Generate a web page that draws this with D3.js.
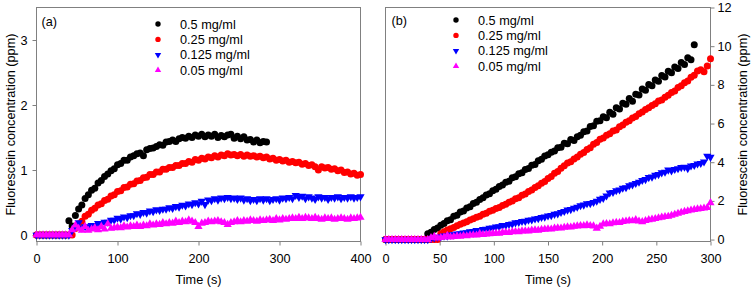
<!DOCTYPE html>
<html>
<head>
<meta charset="utf-8">
<script src="https://cdn.jsdelivr.net/npm/d3@7"></script>
<style>
body { margin: 0; background: #fff; }
svg text { font-family: "Liberation Sans", Arial, sans-serif; fill: #000; }
</style>
</head>
<body>
<div id="chart"></div>
<script>
// ---- Data ----

var seriesNames = ["0.5 mg/ml", "0.25 mg/ml", "0.125 mg/ml", "0.05 mg/ml"];

// panel (a): sampled every 4 s
var timesA = [0,4,8,12,16,20,24,28,32,36,40,44,48,52,56,60,64,68,72,76,80,84,88,92,96,100,
  104,108,112,116,120,124,128,132,136,140,144,148,152,156,160,164,168,172,176,180,184,188,192,196,200,
  204,208,212,216,220,224,228,232,236,240,244,248,252,256,260,264,268,272,276,280,284,288,292,296,300,
  304,308,312,316,320,324,328,332,336,340,344,348,352,356,360,364,368,372,376,380,384,388,392,396,400];

var blackA = [0,0,0,0,0,0,0,0,0,0,
  0.22,0.14,0.30,0.40,0.46,0.56,0.62,0.69,0.72,0.80,
  0.84,0.90,0.94,0.99,1.02,1.08,1.10,1.15,1.15,1.20,
  1.22,1.25,1.26,1.22,1.31,1.33,1.34,1.36,1.39,1.38,
  1.43,1.44,1.46,1.44,1.48,1.50,1.49,1.52,1.50,1.54,
  1.52,1.55,1.51,1.54,1.52,1.55,1.50,1.53,1.51,1.54,
  1.55,1.49,1.52,1.48,1.51,1.46,1.47,1.43,1.46,1.42,
  1.44,1.43];

var redA = [0,0,0,0,0,0,0,0,0,0,0,0,
  0.10,0.17,0.21,0.29,0.32,0.38,0.41,0.46,0.48,0.53,
  0.55,0.60,0.62,0.67,0.68,0.73,0.74,0.78,0.79,0.83,
  0.84,0.88,0.89,0.93,0.93,0.97,0.97,1.01,1.01,1.04,
  1.04,1.07,1.07,1.10,1.10,1.13,1.12,1.16,1.15,1.18,
  1.17,1.20,1.19,1.22,1.20,1.23,1.22,1.25,1.23,1.24,
  1.22,1.24,1.21,1.23,1.21,1.22,1.20,1.21,1.19,1.20,
  1.17,1.18,1.15,1.16,1.14,1.15,1.12,1.13,1.11,1.12,
  1.09,1.10,1.07,1.08,1.05,1.00,1.05,1.03,1.04,1.01,
  1.02,0.99,1.00,0.96,0.97,0.94,0.95,0.92,0.93];

var blueA = [0,0,0,0,0,0,0,0,0,0,0,
  0.07,0.12,0.19,0.11,0.13,0.12,0.15,0.15,0.18,0.17,
  0.20,0.20,0.23,0.23,0.26,0.25,0.28,0.27,0.30,0.30,
  0.33,0.32,0.35,0.34,0.37,0.36,0.39,0.38,0.40,0.40,
  0.42,0.41,0.44,0.43,0.46,0.45,0.48,0.47,0.50,0.48,
  0.52,0.47,0.54,0.53,0.56,0.54,0.57,0.56,0.58,0.56,
  0.57,0.55,0.57,0.54,0.56,0.53,0.55,0.53,0.56,0.54,
  0.56,0.53,0.55,0.56,0.54,0.57,0.56,0.58,0.56,0.61,
  0.58,0.60,0.56,0.59,0.57,0.55,0.59,0.57,0.58,0.55,
  0.58,0.57,0.59,0.56,0.58,0.57,0.59,0.57,0.58,0.59];

var magentaA = [0,0,0,0,0,0,0,0,0,0,0,
  0.08,0.15,0.10,0.07,0.13,0.07,0.09,0.11,0.08,0.13,
  0.09,0.17,0.10,0.11,0.12,0.11,0.14,0.12,0.14,0.13,
  0.15,0.13,0.15,0.14,0.17,0.15,0.17,0.16,0.19,0.17,
  0.19,0.18,0.21,0.19,0.21,0.20,0.23,0.21,0.19,0.13,
  0.18,0.19,0.21,0.20,0.21,0.22,0.20,0.19,0.16,0.19,
  0.20,0.22,0.20,0.22,0.21,0.23,0.22,0.21,0.23,0.22,
  0.23,0.24,0.22,0.25,0.23,0.25,0.24,0.25,0.26,0.25,
  0.27,0.25,0.27,0.26,0.25,0.27,0.25,0.24,0.26,0.25,
  0.26,0.24,0.25,0.26,0.25,0.24,0.26,0.25,0.26,0.27];

// panel (b): sampled every 3 s
var timesB = [0,3,6,9,12,15,18,21,24,27,30,33,36,39,42,45,48,51,54,57,60,63,66,69,72,75,
  78,81,84,87,90,93,96,99,102,105,108,111,114,117,120,123,126,129,132,135,138,141,144,147,150,
  153,156,159,162,165,168,171,174,177,180,183,186,189,192,195,198,201,204,207,210,213,216,219,222,225,
  228,231,234,237,240,243,246,249,252,255,258,261,264,267,270,273,276,279,282,285,288,291,294,297,300];

var blackB = [0,0,0,0,0,0,0,0,0,0,0,0,0,
  0.30,0.38,0.52,0.60,0.74,0.83,0.97,1.03,1.20,1.26,
  1.42,1.48,1.63,1.70,1.87,1.93,2.07,2.16,2.30,2.37,
  2.52,2.60,2.74,2.82,2.97,3.02,3.20,3.25,3.40,3.46,
  3.62,3.68,3.84,3.88,4.08,4.15,4.32,4.38,4.52,4.58,
  4.75,4.78,4.98,4.96,5.18,5.12,5.32,5.40,5.58,5.62,
  5.85,5.88,6.12,6.15,6.35,6.30,6.58,6.48,6.82,6.75,
  7.05,7.00,7.30,7.15,7.52,7.48,7.78,7.72,8.02,7.95,
  8.25,8.18,8.48,8.40,8.70,8.62,8.92,8.85,9.15,9.05,
  9.40,9.30,10.08];

var redB = [0,0,0,0,0,0,0,0,0,0,0,0,0,0,0,0,0,
  0.30,0.40,0.50,0.56,0.63,0.72,0.79,0.86,0.92,1.01,
  1.07,1.16,1.21,1.31,1.36,1.46,1.51,1.61,1.66,1.76,
  1.83,1.93,1.99,2.11,2.16,2.29,2.36,2.49,2.56,2.69,
  2.78,2.91,3.00,3.16,3.26,3.43,3.52,3.69,3.82,3.96,
  4.02,4.16,4.27,4.41,4.50,4.66,4.75,4.93,5.02,5.19,
  5.25,5.39,5.47,5.61,5.67,5.83,5.92,6.06,6.15,6.29,
  6.37,6.51,6.59,6.73,6.82,6.93,7.02,7.16,7.22,7.36,
  7.46,7.61,7.68,7.86,7.96,8.11,8.20,8.39,8.50,8.71,
  8.78,8.68,8.98,9.35];

var blueB = [0,0,0,0,0,0,0,0,0,0,0,0,0,0,
  0.05,0.09,0.13,0.14,0.19,0.19,0.24,0.25,0.29,0.31,
  0.35,0.36,0.41,0.42,0.47,0.48,0.53,0.54,0.59,0.61,
  0.66,0.67,0.73,0.74,0.79,0.81,0.87,0.89,0.94,0.95,
  1.01,1.02,1.07,1.09,1.15,1.17,1.23,1.25,1.31,1.34,
  1.41,1.46,1.53,1.56,1.63,1.68,1.76,1.79,1.86,1.87,
  1.93,1.99,2.09,2.14,2.26,2.42,2.44,2.53,2.57,2.66,
  2.69,2.79,2.84,2.91,2.97,3.06,3.11,3.21,3.24,3.33,
  3.37,3.46,3.49,3.60,3.56,3.63,3.67,3.73,3.75,3.68,
  3.81,3.84,3.92,3.94,4.02,4.32,4.26];

var magentaB = [0,0,0,0,0,0,0,0,0,0,0,0,0,0,
  0.10,0.16,0.08,0.10,0.12,0.21,0.13,0.15,0.18,0.16,
  0.20,0.19,0.23,0.24,0.23,0.31,0.26,0.28,0.30,0.31,
  0.33,0.32,0.36,0.37,0.36,0.40,0.41,0.40,0.44,0.45,
  0.44,0.48,0.49,0.48,0.52,0.53,0.55,0.54,0.58,0.60,
  0.59,0.63,0.65,0.64,0.68,0.70,0.72,0.71,0.75,0.72,
  0.70,0.58,0.68,0.80,0.82,0.81,0.86,0.88,0.87,0.93,
  0.95,0.98,0.96,1.02,0.95,0.92,0.98,1.02,1.05,1.08,
  1.12,1.15,1.18,1.20,1.25,1.30,1.35,1.40,1.45,1.48,
  1.52,1.55,1.58,1.60,1.62,1.65,1.90];

var ticksAx = [0, 100, 200, 300, 400];
var ticksAy = [0, 1, 2, 3];
var ticksBx = [0, 50, 100, 150, 200, 250, 300];
var ticksBy = [0, 2, 4, 6, 8, 10, 12];

// ---- Setup ----
var width = 752;
var height = 290;
var fontSize = 12.7;
var frameColor = "#808080";
var colors = ["#000000", "#ff0000", "#0000ff", "#ff00ff"];
var shapes = ["circle", "circle", "down", "up"];

var svg = d3
    .select("#chart")
    .append("svg")
    .attr("width", width)
    .attr("height", height);

// marker path around (0,0)
function markerPath(shape, size) {
    if (shape === "circle") {
        var r = size / 2;
        return "M" + r + ",0A" + r + "," + r + " 0 1,1 " + (-r) + ",0A" + r + "," + r + " 0 1,1 " + r + ",0Z";
    }
    var h = size * Math.sqrt(3) / 2;
    var s = shape === "up" ? 1 : -1;
    return "M0," + (-s * h * 2 / 3) + "L" + (size / 2) + "," + (s * h / 3) + "L" + (-size / 2) + "," + (s * h / 3) + "Z";
}

function zip(times, values) {
    return values.map(function (v, i) { return { t: times[i], v: v }; });
}

function drawPanel(p) {
    var xScale = d3.scaleLinear().domain(p.xDomain).range([p.left, p.right]);
    var yScale = d3.scaleLinear().domain(p.yDomain).range([p.bottom, p.top]);

    var g = svg.append("g");

    // x axis
    var xAxis = d3.axisBottom(xScale).tickValues(p.xTicks).tickSize(4).tickSizeOuter(0).tickPadding(8);
    var gx = g.append("g").attr("transform", "translate(0," + p.bottom + ")").call(xAxis);

    // y axis (left or right)
    var yAxis = p.yRight
        ? d3.axisRight(yScale).tickSize(4).tickPadding(3)
        : d3.axisLeft(yScale).tickSize(4).tickPadding(5);
    yAxis.tickValues(p.yTicks).tickSizeOuter(0).tickFormat(d3.format("d"));
    var gy = g.append("g")
        .attr("transform", "translate(" + (p.yRight ? p.right : p.left) + ",0)")
        .call(yAxis);

    [gx, gy].forEach(function (a) {
        a.select(".domain").remove();
        a.selectAll(".tick line").attr("stroke", frameColor);
        a.selectAll(".tick text")
            .attr("font-size", fontSize)
            .attr("font-family", "Liberation Sans, Arial, sans-serif")
            .attr("fill", "#000");
    });

    // frame
    g.append("rect")
        .attr("x", p.left)
        .attr("y", p.top)
        .attr("width", p.right - p.left)
        .attr("height", p.bottom - p.top)
        .attr("fill", "none")
        .attr("stroke", frameColor)
        .attr("stroke-width", 1);

    // points
    p.series.forEach(function (s, i) {
        g.append("g")
            .selectAll("path")
            .data(zip(p.times, s))
            .enter()
            .append("path")
            .attr("d", markerPath(shapes[i], shapes[i] === "circle" ? 7 : 8.2))
            .attr("transform", function (d) {
                return "translate(" + xScale(d.t) + "," + yScale(d.v) + ")";
            })
            .attr("fill", colors[i]);
    });

    // panel tag
    g.append("text")
        .attr("x", p.tagX)
        .attr("y", p.tagY)
        .attr("font-size", fontSize)
        .text(p.tag);

    // legend
    seriesNames.forEach(function (name, i) {
        var ly = p.legendY + i * 15.4;
        g.append("path")
            .attr("d", markerPath(shapes[i], shapes[i] === "circle" ? 5.4 : 6.4))
            .attr("transform", "translate(" + p.legendX + "," + ly + ")")
            .attr("fill", colors[i]);
        g.append("text")
            .attr("x", p.legendX + 22)
            .attr("y", ly + 4.5)
            .attr("font-size", fontSize)
            .text(name);
    });

    // x title
    g.append("text")
        .attr("x", (p.left + p.right) / 2)
        .attr("y", 284)
        .attr("text-anchor", "middle")
        .attr("font-size", fontSize)
        .text("Time (s)");

    // y title
    g.append("text")
        .attr("transform", "translate(" + p.yTitleX + "," + ((p.top + p.bottom) / 2) + ") rotate(-90)")
        .attr("text-anchor", "middle")
        .attr("font-size", fontSize)
        .text("Fluorescein concentration (ppm)");
}

drawPanel({
    left: 36.5, right: 360.5, top: 7.5, bottom: 241.5,
    xDomain: [0, 400], yDomain: [-0.1, 3.5],
    xTicks: ticksAx, yTicks: ticksAy,
    times: timesA, series: [blackA, redA, blueA, magentaA],
    tag: "(a)", tagX: 41.5, tagY: 25.5,
    legendX: 158, legendY: 24,
    yTitleX: 15, yRight: false
});

drawPanel({
    left: 385.5, right: 710.5, top: 7.5, bottom: 241.5,
    xDomain: [0, 300], yDomain: [-0.1, 12],
    xTicks: ticksBx, yTicks: ticksBy,
    times: timesB, series: [blackB, redB, blueB, magentaB],
    tag: "(b)", tagX: 391.5, tagY: 24.5,
    legendX: 456, legendY: 20,
    yTitleX: 746.5, yRight: true
});
</script>
</body>
</html>
